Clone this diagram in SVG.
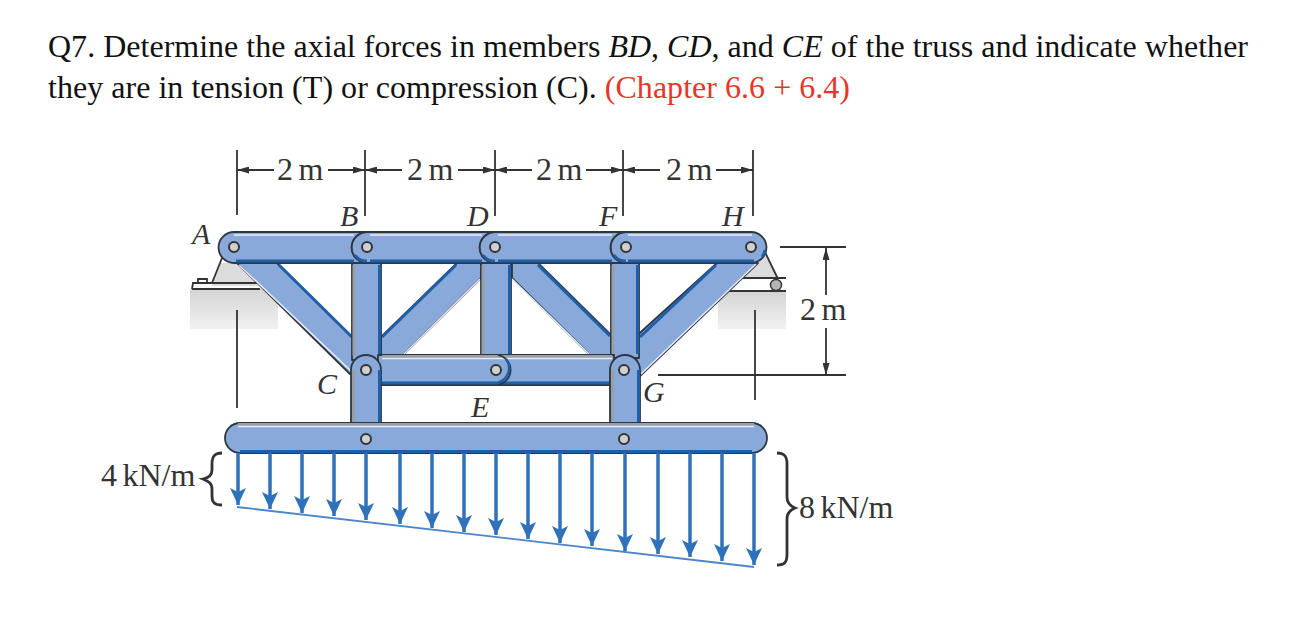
<svg xmlns="http://www.w3.org/2000/svg" width="1302" height="626" viewBox="0 0 1302 626">
<style>
text{font-family:"Liberation Serif","Times New Roman",serif;fill:#1c1c1c}
.t{font-size:32px;fill:#111}
.d{font-size:32px;fill:#333;word-spacing:-2.500px}
.n{font-size:30px;font-style:italic;fill:#333}
.m{fill:#88a9d9;stroke:#2e3640;stroke-width:1.8;stroke-linejoin:round}
.e{fill:none;stroke:#1f5fa8;stroke-width:3}
.h{fill:none;stroke:#e6edf7;stroke-width:1.6}
.g{fill:none;stroke:#9a9ea6;stroke-width:3}
.l{fill:none;stroke:#333;stroke-width:1.8}
.b{fill:none;stroke:#333;stroke-width:2.800}
.p{fill:#cfcfcf;stroke:#333;stroke-width:2}
.a{stroke:#2f72b9;stroke-width:3.500;fill:none}
</style>
<defs>
<linearGradient id="fade" x1="0" y1="0" x2="0" y2="1"><stop offset="0" stop-color="#d4d4d4"/><stop offset="1" stop-color="#f2f2f2"/></linearGradient>
<marker id="da" viewBox="0 0 12 7" refX="12" refY="3.500" markerWidth="12" markerHeight="7" orient="auto-start-reverse" markerUnits="userSpaceOnUse"><path d="M0 0L12 3.500L0 7Z" fill="#333"/></marker>
<marker id="la" viewBox="0 0 18 18" refX="17" refY="8" markerWidth="18" markerHeight="18" orient="auto" markerUnits="userSpaceOnUse"><path d="M0 0L17 8L0 16L4 8Z" fill="#2f72b9"/></marker>
</defs>
<g id="title">
<text class="t" x="48" y="57" textLength="1200" lengthAdjust="spacing">Q7. Determine the axial forces in members <tspan font-style="italic">BD</tspan>, <tspan font-style="italic">CD</tspan>, and <tspan font-style="italic">CE</tspan> of the truss and indicate whether</text>
<text class="t" x="48" y="98" textLength="802" lengthAdjust="spacing">they are in tension (T) or compression (C). <tspan fill="#e8352a">(Chapter 6.6 + 6.4)</tspan></text>
</g>
<g id="supports">
<rect x="190" y="289" width="88" height="40" fill="url(#fade)"/>
<rect x="718" y="292" width="68" height="37" fill="url(#fade)"/>
<path d="M219 263L237 263L262 286L212 286Z" fill="#dcdcdc"/>
<path d="M222 258L212 283M192 289L260 289M192 289L193 283L260 283M198 283V279H207V283" class="l"/>
<path d="M742 278L766 255L778 278Z" fill="#dcdcdc"/>
<path d="M764 250L778 279M742 278H786M728 291H786" class="l"/>
<circle cx="776" cy="285" r="5.500" fill="#b5b5b5" stroke="#333" stroke-width="1.400"/>
</g>
<g id="members">
<path id="AC" class="m" d="M237 263L277 263L355 340L365 372L350 374Z"/>
<path class="h" d="M239 265L351 371"/><path class="e" d="M279 265L354 339"/>
<path id="CD" class="m" d="M457 263L381 337L381 355L403 355L481 278L481 263Z"/>
<path class="e" d="M456 265L382 337"/><path class="h" d="M403 355L480 279"/>
<path id="DG" class="m" d="M512 263L538 263L611 335L611 355L590 355L512 278Z"/>
<path class="e" d="M538 265L610 336"/><path class="h" d="M512 279L590 355"/>
<path id="GH" class="m" d="M717 263L758 263L640 376L632 340Z"/>
<path class="e" d="M716 265L640 337"/><path class="h" d="M756 264L641 374"/>
<path id="BC" class="m" d="M352 263H381V360H352Z"/><path class="g" d="M354 265V356"/><path class="e" d="M379.500 265V356"/>
<path id="DE" class="m" d="M481 263H511V358H481Z"/><path class="g" d="M483 265V354"/><path class="e" d="M509.500 265V354"/>
<path id="FG" class="m" d="M611 263H639V358H611Z"/><path class="g" d="M613 265V354"/><path class="e" d="M637.500 265V354"/>
<path id="EG" class="m" d="M490 355H614V385H490Z"/>
<path id="CE" class="m" d="M378 355H496V385H378Z"/>
<path d="M488 356H496A14.500 14.500 0 0 1 496 384H488Z" fill="#88a9d9"/>
<path class="g" d="M382 356.500H612"/><path class="h" d="M382 358.500H612"/><path class="e" d="M382 383H612"/>
<path d="M498 355.200A15 15 0 0 1 498 384.800" fill="none" stroke="#2e3640" stroke-width="1.800"/>
<path d="M506 359A15 15 0 0 1 498 382.500" fill="none" stroke="#1f5fa8" stroke-width="2.500"/>
<path id="C-beam" class="m" d="M351 423V370A15 15 0 0 1 381 370V423Z"/><path class="g" d="M353.500 423V370"/><path class="e" d="M379.500 370V423"/>
<path id="G-beam" class="m" d="M610 423V370A15 15 0 0 1 640 370V423Z"/><path class="g" d="M612.500 423V370"/><path class="e" d="M638.500 370V423"/>
<path id="FH" class="m" d="M626 232H751A15.500 15.500 0 0 1 751 263H626A15.500 15.500 0 0 1 626 232Z"/>
<path id="DF" class="m" d="M495 232H626A15.500 15.500 0 0 0 626 263H495A15.500 15.500 0 0 1 495 232Z"/>
<path id="BD" class="m" d="M367 232H495A15.500 15.500 0 0 0 495 263H367A15.500 15.500 0 0 1 367 232Z"/>
<path id="AB" class="m" d="M234 232H367A15.500 15.500 0 0 0 367 263H234A15.500 15.500 0 0 1 234 232Z"/>
<path class="h" d="M234 235H354M370 235H482M498 235H612M628 235H752"/>
<path class="e" d="M236 261H354M370 261H482M498 261H612M628 261H754"/>
<path class="e" d="M355 255A14 14 0 0 0 367 261M483 255A14 14 0 0 0 495 261M614 255A14 14 0 0 0 626 261M762 257A14 14 0 0 0 765 250"/>
<path id="beam" class="m" d="M240 423H752A15 15 0 0 1 752 453H240A15 15 0 0 1 240 423Z"/>
<path class="g" d="M238 424.500H754"/><path class="h" d="M238 426.500H754"/><path class="e" d="M240 451.500H752"/>
</g>
<g id="pins">
<circle class="p" cx="234" cy="247" r="5"/><circle class="p" cx="367" cy="247" r="5"/><circle class="p" cx="495" cy="247" r="5"/><circle class="p" cx="626" cy="247" r="5"/><circle class="p" cx="751" cy="247" r="5"/>
<circle class="p" cx="366" cy="370" r="5"/><circle class="p" cx="496" cy="370" r="5"/><circle class="p" cx="624" cy="370" r="5"/>
<circle class="p" cx="366" cy="439" r="5"/><circle class="p" cx="624" cy="439" r="5"/>
</g>
<g id="connectors">
<path class="l" d="M237 150V215M365 150V216M495 150V216M623 150V216M753 150V216M237 310V408M755 310V400M780 247H846M658 375H846"/>
<g class="l">
<path d="M237 170H274" marker-start="url(#da)"/><path d="M328 170H365" marker-end="url(#da)"/>
<path d="M365 170H402" marker-start="url(#da)"/><path d="M458 170H495" marker-end="url(#da)"/>
<path d="M495 170H532" marker-start="url(#da)"/><path d="M586 170H623" marker-end="url(#da)"/>
<path d="M623 170H660" marker-start="url(#da)"/><path d="M716 170H753" marker-end="url(#da)"/>
<path d="M826 295V248" marker-end="url(#da)"/><path d="M826 328V375" marker-end="url(#da)"/>
</g>
<g class="a">
<path d="M238 453V505" marker-end="url(#la)"/><path d="M270 453V509" marker-end="url(#la)"/><path d="M302 453V513" marker-end="url(#la)"/><path d="M334 453V516" marker-end="url(#la)"/><path d="M366 453V520" marker-end="url(#la)"/><path d="M400 453V524" marker-end="url(#la)"/><path d="M432 453V528" marker-end="url(#la)"/><path d="M464 453V532" marker-end="url(#la)"/><path d="M496 453V535" marker-end="url(#la)"/><path d="M528 453V539" marker-end="url(#la)"/><path d="M560 453V543" marker-end="url(#la)"/><path d="M592 453V546" marker-end="url(#la)"/><path d="M625 453V551" marker-end="url(#la)"/><path d="M658 453V554" marker-end="url(#la)"/><path d="M690 453V557" marker-end="url(#la)"/><path d="M722 453V561" marker-end="url(#la)"/><path d="M754 453V565" marker-end="url(#la)"/>
</g>
<path d="M237 507L754 567" fill="none" stroke="#4a86c8" stroke-width="1.800"/>
<path class="b" d="M222 453C214 453 212 457 212 464V470C212 476 208 478 203 479C208 481 212 483 212 489V496C212 502 214 505 222 505"/>
<path class="b" d="M777 453C785 453 787 457 787 464V497C787 503 790 506 795 508C790 510 787 513 787 519V554C787 562 785 565 777 565"/>
</g>
<g id="labels">
<text class="d" x="277" y="180">2 m</text><text class="d" x="407" y="180">2 m</text><text class="d" x="536" y="180">2 m</text><text class="d" x="666" y="180">2 m</text>
<text class="d" x="800" y="320">2 m</text>
<text class="d" x="101" y="486">4 kN/m</text><text class="d" x="799" y="518">8 kN/m</text>
<text class="n" x="192" y="244">A</text><text class="n" x="340" y="226">B</text><text class="n" x="467" y="226">D</text><text class="n" x="599" y="226">F</text><text class="n" x="722" y="226">H</text>
<text class="n" x="317" y="394">C</text><text class="n" x="471" y="417">E</text><text class="n" x="643" y="402">G</text>
</g>
</svg>
